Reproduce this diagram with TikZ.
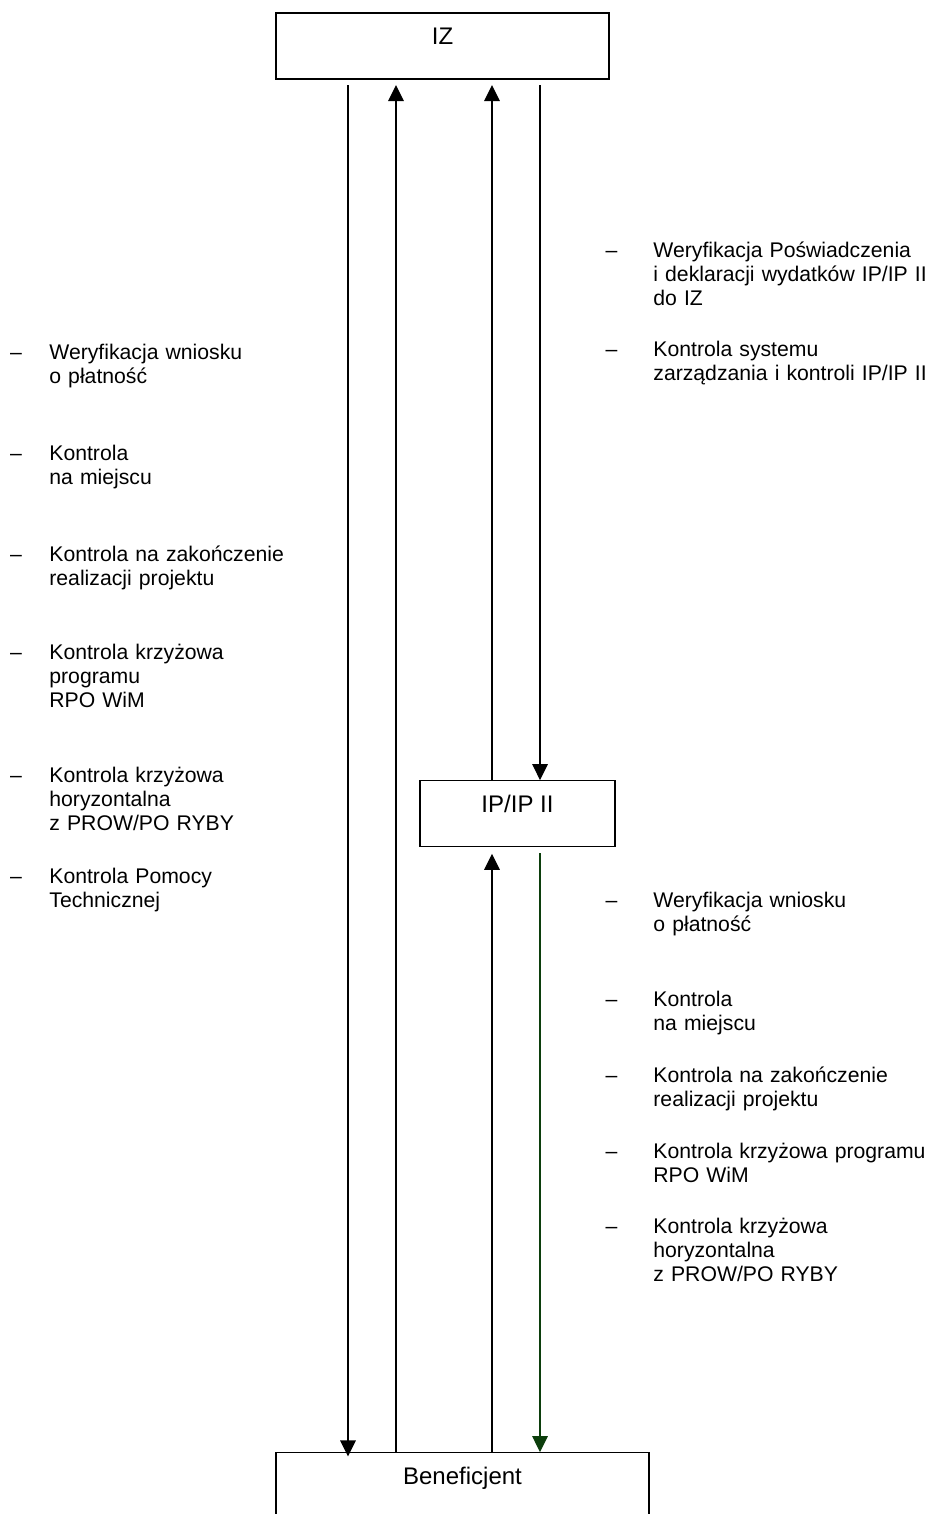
\documentclass[tikz,border=0pt]{standalone}
\usepackage{fontspec}
\setmainfont{Liberation Sans}
\usetikzlibrary{arrows.meta,calc}
\definecolor{dgreen}{RGB}{12,62,12}
\begin{document}
\begin{tikzpicture}[x=0.5pt,y=-0.5pt,
  box/.style={draw, line width=0.65pt, inner sep=0pt, anchor=base, font=\fontsize{12}{14}\selectfont},
  item/.style={anchor=base west, inner sep=0pt, text width=180pt, align=left, font=\fontsize{10.6}{12}\selectfont},
  arr/.style={line width=0.65pt, -{Triangle[length=8pt,width=7.8pt]}},
  ln/.style={line width=0.65pt}]
\useasboundingbox (0,0) rectangle (928,1514);
\clip (0,0) rectangle (928,1514);
\newcommand{\ldash}{\llap{–\hspace{13.8pt}}}
\newcommand{\rdash}{\llap{–\hspace{18pt}}}

% boxes
\node[box, minimum width=166.5pt, text height=16pt, text depth=17pt] (IZ) at (442.5,45) {IZ};
\node[box, minimum width=97.5pt, text height=16pt, text depth=17pt] (IP) at (517.5,812.7) {IP/IP II};
\node[box, minimum width=186.5pt, text height=15.65pt, text depth=30pt] (Ben) at (462.5,1484) {Beneficjent};

% x positions of connectors
\coordinate (x1) at (348,0);
\coordinate (x2) at (396,0);
\coordinate (x3) at (492,0);
\coordinate (x4) at (540,0);

% connectors
\draw[arr] ($(IZ.south -| x1)+(0,5.5)$) -- ($(Ben.north -| x1)+(0,4.3)$);
\draw[arr] (Ben.north -| x2) -- ($(IZ.south -| x2)+(0,5.5)$);
\draw[arr] (Ben.north -| x3) -- ($(IP.south -| x3)+(0,6.5)$);
\draw[arr] (IP.north -| x3) -- ($(IZ.south -| x3)+(0,5.5)$);
\draw[arr] ($(IZ.south -| x4)+(0,5.5)$) -- (IP.north -| x4);
\draw[arr, dgreen] ($(IP.south -| x4)+(0,6)$) -- (Ben.north -| x4);

% left column
\node[item] (L1) at (49,359) {\ldash Weryfikacja wniosku\\o płatność};
\node[item] (L2) at (49,460) {\ldash Kontrola\\na miejscu};
\node[item] (L3) at (49,561.5) {\ldash Kontrola na zakończenie\\realizacji projektu};
\node[item] (L4) at (49,659) {\ldash Kontrola krzyżowa\\programu\\RPO WiM};
\node[item] (L5) at (49,782.3) {\ldash Kontrola krzyżowa\\horyzontalna\\z PROW/PO RYBY};
\node[item] (L6) at (49,883.3) {\ldash Kontrola Pomocy\\Technicznej};

% right column
\node[item] (R1) at (653,257) {\rdash Weryfikacja Poświadczenia\\i deklaracji wydatków IP/IP II\\do IZ};
\node[item] (R2) at (653,356) {\rdash Kontrola systemu\\zarządzania i kontroli IP/IP II};
\node[item] (R3) at (653,907.3) {\rdash Weryfikacja wniosku\\o płatność};
\node[item] (R4) at (653,1006.7) {\rdash Kontrola\\na miejscu};
\node[item] (R5) at (653,1082) {\rdash Kontrola na zakończenie\\realizacji projektu};
\node[item] (R6) at (653,1158.3) {\rdash Kontrola krzyżowa programu\\RPO WiM};
\node[item] (R7) at (653,1233.3) {\rdash Kontrola krzyżowa\\horyzontalna\\z PROW/PO RYBY};
\end{tikzpicture}
\end{document}
